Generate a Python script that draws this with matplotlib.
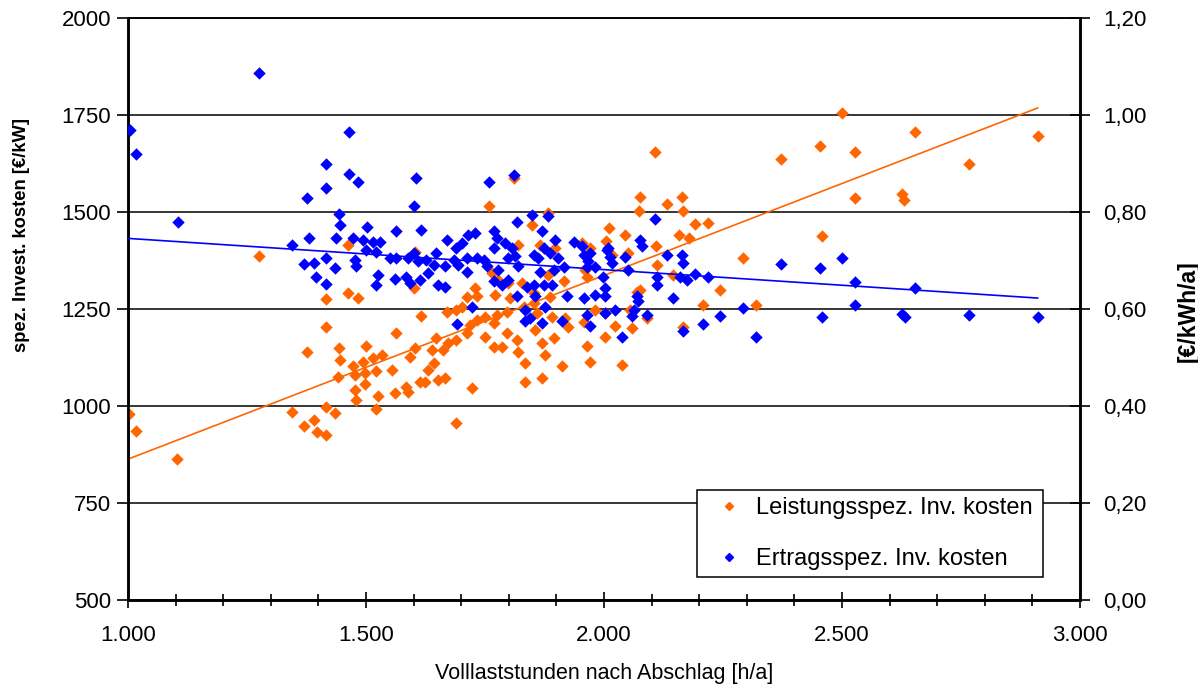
import numpy as np
import matplotlib
matplotlib.use("Agg")
import matplotlib.pyplot as plt
from matplotlib.ticker import FuncFormatter, MultipleLocator
from matplotlib.lines import Line2D

plt.rcParams['font.family'] = ['Liberation Sans', 'DejaVu Sans']

# Leistungsspez. Inv. kosten  [h/a] -> [EUR/kW]
leist_x = [1003, 1016, 1103, 1276, 1344, 1370, 1390, 1397, 1417, 1417, 1376, 1416, 1416,
           1615, 1564, 1444, 1501, 1445, 1473, 1494, 1515, 1533, 1442, 1477, 1498, 1522,
           1498, 1477, 1480, 1526, 1522, 1435, 1554, 1561, 1585, 1589, 1593, 1603, 1614,
           1624, 1631, 1642, 1648, 1638, 1652, 1666, 1662, 1673, 1690, 1690, 1712, 1722,
           1719, 1733, 1750, 1750, 1768, 1785, 1768, 1775, 1796, 1817, 1820, 1834, 1834,
           1796,
           1463, 1463, 1484, 1600, 1603, 1670, 1712, 1701, 1690, 1729, 1733, 1759, 1810,
           1764, 1771, 1778, 1799, 1803, 1820, 1827, 1831,
           1883, 1848, 1866, 1897, 1953, 1971, 2011, 2044, 2004, 2016, 2051, 2076, 2163,
           2132, 2074, 2167, 2191, 2218, 2158, 2179, 2109, 2111, 2144, 2244, 2207, 2076,
           2069, 1852, 1883, 1915, 1887, 1964, 1960, 2002, 1981, 2055, 1859, 1852,
           1855, 1890, 1918, 1925, 1894, 1869, 1876, 1911, 1869, 1964, 1971, 1957, 2002,
           2023, 2058, 2037, 2090, 2167,
           2499, 2654, 2453, 2527, 2372, 2911, 2766, 2527, 2626, 2630, 2457, 2291, 2319,
           2107]
leist_y = [979, 936, 864, 1387, 984, 949, 964, 934, 924, 998, 1138, 1204, 1275,
           1232, 1187, 1149, 1155, 1119, 1103, 1114, 1123, 1132, 1076, 1080, 1084, 1089,
           1057, 1041, 1016, 1026, 991, 981, 1093, 1033, 1050, 1037, 1127, 1149, 1063,
           1063, 1093, 1110, 1174, 1144, 1067, 1071, 1144, 1162, 1170, 955, 1187, 1046,
           1209, 1222, 1230, 1179, 1153, 1153, 1213, 1235, 1187, 1170, 1140, 1112, 1063,
           1243,
           1415, 1290, 1278, 1303, 1398, 1241, 1282, 1256, 1248, 1303, 1284, 1516, 1587,
           1342, 1286, 1325, 1316, 1278, 1415, 1316, 1256,
           1497, 1467, 1415, 1406, 1419, 1406, 1458, 1442, 1426, 1389, 1394, 1538, 1538,
           1521, 1503, 1503, 1469, 1471, 1441, 1432, 1412, 1363, 1338, 1299, 1260, 1299,
           1295, 1290, 1338, 1321, 1282, 1333, 1351, 1239, 1248, 1248, 1239, 1265,
           1196, 1229, 1226, 1203, 1174, 1162, 1132, 1103, 1071, 1155, 1114, 1217, 1179,
           1206, 1200, 1106, 1226, 1203,
           1756, 1705, 1670, 1654, 1637, 1696, 1624, 1535, 1546, 1531, 1438, 1381, 1260,
           1655]

# Ertragsspez. Inv. kosten  [h/a] -> [EUR/kWh/a]
ertrag_x = [1004, 1016, 1275, 1104, 1464, 1416, 1416, 1377, 1380, 1344, 1370, 1390, 1416,
            1396, 1417,
            1465, 1484, 1605, 1600, 1759, 1810, 1444, 1445, 1503, 1564, 1615, 1438, 1473,
            1494, 1515, 1529, 1500, 1522, 1477, 1480, 1435, 1550, 1564, 1589, 1600, 1610,
            1627, 1648, 1642, 1666, 1670, 1684, 1694, 1690, 1701, 1715, 1729, 1712, 1733,
            1747, 1754, 1768, 1775, 1792, 1768, 1806, 1813, 1799, 1817, 1820, 1526, 1522,
            1561, 1585, 1593, 1614, 1631, 1652, 1666, 1768, 1785, 1799, 1817, 1838, 1722,
            1834, 1778, 1712,
            1848, 1883, 1869, 1897, 1936, 1953, 1873, 1852, 1862, 1887, 1904, 1957, 1971,
            2009, 2013, 2006, 1967, 1964, 1915, 1894, 1866, 1981, 1998, 2016, 2044, 2076,
            2079, 2051, 2107, 2132, 2163, 2167, 2111, 2111, 2160, 2191, 2219, 2174, 1852,
            1873, 1890, 1855, 1922, 1957, 1981, 2002, 2002, 2069, 2072, 2146, 1876, 1964,
            2002, 2023, 2062, 2090, 2244, 1844,
            1869, 1912, 1971, 2037, 2058, 2165, 2209,
            2372, 2453, 2499, 2527, 2654, 2527, 2291, 2319, 2457, 2626, 2632, 2766, 2911,
            1692, 1834]
ertrag_y = [0.969, 0.919, 1.086, 0.779, 0.965, 0.899, 0.850, 0.828, 0.746, 0.732, 0.692,
            0.694, 0.705, 0.667, 0.651,
            0.878, 0.861, 0.870, 0.813, 0.861, 0.876, 0.796, 0.773, 0.770, 0.760, 0.763,
            0.746, 0.746, 0.742, 0.739, 0.739, 0.722, 0.718, 0.701, 0.688, 0.684, 0.705,
            0.705, 0.705, 0.715, 0.698, 0.701, 0.715, 0.691, 0.688, 0.742, 0.701, 0.691,
            0.725, 0.736, 0.753, 0.756, 0.705, 0.705, 0.701, 0.688, 0.760, 0.746, 0.736,
            0.725, 0.725, 0.709, 0.705, 0.780, 0.688, 0.670, 0.650, 0.661, 0.667, 0.653,
            0.660, 0.674, 0.650, 0.645, 0.657, 0.650, 0.660, 0.626, 0.646, 0.605, 0.598,
            0.681, 0.677,
            0.794, 0.791, 0.760, 0.742, 0.739, 0.729, 0.725, 0.712, 0.705, 0.715, 0.705,
            0.712, 0.715, 0.725, 0.708, 0.722, 0.698, 0.687, 0.687, 0.681, 0.677, 0.687,
            0.667, 0.694, 0.708, 0.742, 0.729, 0.681, 0.785, 0.712, 0.712, 0.694, 0.667,
            0.650, 0.667, 0.672, 0.665, 0.660, 0.650, 0.650, 0.650, 0.626, 0.626, 0.622,
            0.629, 0.643, 0.626, 0.626, 0.617, 0.622, 0.605, 0.588, 0.591, 0.598, 0.598,
            0.588, 0.585, 0.581,
            0.572, 0.576, 0.565, 0.542, 0.586, 0.555, 0.569,
            0.693, 0.684, 0.705, 0.655, 0.643, 0.609, 0.602, 0.543, 0.584, 0.590, 0.583,
            0.588, 0.584,
            0.569, 0.575]

# linear trends (slope, intercept)
trend_leist = (0.4736, 389.4)
trend_ertrag = (-6.44e-5, 0.810)
trend_range = [1000, 2911]

orange = '#FF6600'
blue = '#0000FF'

fig = plt.figure(figsize=(11.98, 6.88), dpi=100)
ax = fig.add_axes([128 / 1198, 1 - 600 / 688, 952 / 1198, 582 / 688])
ax2 = ax.twinx()

ax.scatter(leist_x, leist_y, s=40, marker='D', c=orange, linewidths=0, zorder=3)
ax2.scatter(ertrag_x, ertrag_y, s=40, marker='D', c=blue, linewidths=0, zorder=3)

xs = np.array(trend_range)
ax.plot(xs, trend_leist[0] * xs + trend_leist[1], color=orange, lw=1.2, zorder=4)
ax2.plot(xs, trend_ertrag[0] * xs + trend_ertrag[1], color=blue, lw=1.2, zorder=4)

ax.set_xlim(1000, 3000)
ax.set_ylim(500, 2000)
ax2.set_ylim(0, 1.2)

ax.yaxis.set_major_locator(MultipleLocator(250))
ax2.yaxis.set_major_locator(MultipleLocator(0.2))
ax.xaxis.set_major_locator(MultipleLocator(500))
ax.xaxis.set_minor_locator(MultipleLocator(100))
ax.xaxis.set_major_formatter(FuncFormatter(lambda v, p: f"{v:,.0f}".replace(",", ".")))
ax.yaxis.set_major_formatter(FuncFormatter(lambda v, p: f"{v:.0f}"))
ax2.yaxis.set_major_formatter(FuncFormatter(lambda v, p: f"{v:.2f}".replace(".", ",")))

ax.grid(axis='y', color='black', lw=1.1)
ax.set_axisbelow(True)

for a in (ax, ax2):
    for sp in a.spines.values():
        sp.set_linewidth(1.8)
    a.spines['top'].set_linewidth(1.1)

ax.tick_params(axis='x', which='major', direction='inout', length=12, width=1.2,
               pad=12, labelsize=16)
ax.tick_params(axis='x', which='minor', direction='inout', length=9, width=1.2)
ax.tick_params(axis='y', direction='out', length=8, width=1.2, pad=4, labelsize=16)
ax2.tick_params(axis='y', direction='inout', length=14, width=1.2, pad=10, labelsize=16)

ax.set_xlabel('Volllaststunden nach Abschlag [h/a]', fontsize=15.5)
ax.xaxis.set_label_coords(0.5, -0.108)
ax.set_ylabel('spez. Invest. kosten [€/kW]', fontsize=13.2, fontweight='bold')
ax.yaxis.set_label_coords(-0.103, 0.627)
ax2.set_ylabel('[€/kWh/a]', fontsize=16.5, fontweight='bold')
ax2.yaxis.set_label_coords(1.102, 0.497)

handles = [Line2D([], [], ls='none', marker='D', ms=4.5, color=orange, mec=orange),
           Line2D([], [], ls='none', marker='D', ms=4.5, color=blue, mec=blue)]
leg = ax2.legend(handles, ['Leistungsspez. Inv. kosten', 'Ertragsspez. Inv. kosten'],
                 loc='lower left', bbox_to_anchor=(0.5977, 0.0395, 0.3634, 0.153),
                 mode='expand', fontsize=17, frameon=True, fancybox=False,
                 edgecolor='black', framealpha=1, labelspacing=1.22, borderpad=0.3,
                 handlelength=2.1, handletextpad=0.1, borderaxespad=0)
leg.get_frame().set_linewidth(1.1)

fig.savefig('out.png', dpi=100)
